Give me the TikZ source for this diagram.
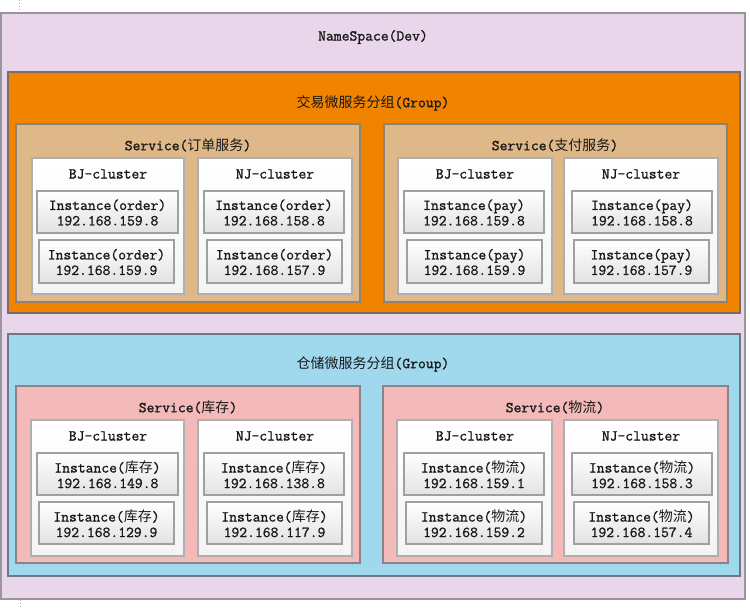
\documentclass[tikz,border=0pt]{standalone}
\usepackage{fontspec}
\newfontfamily\cjk{Noto Sans CJK SC}[Scale=0.92]
\newfontfamily\mono{Latin Modern Mono}[FakeBold=1.2]

\tikzset{every picture/.style={line width=0.75pt}}
\tikzset{
  nsbox/.style={draw={rgb, 255:red, 150; green, 150; blue, 155}, fill={rgb, 255:red, 234; green, 214; blue, 234}, line width=1.1},
  grporange/.style={draw={rgb, 255:red, 120; green, 110; blue, 100}, fill={rgb, 255:red, 240; green, 131; blue, 0}, line width=1.1},
  grpblue/.style={draw={rgb, 255:red, 110; green, 120; blue, 130}, fill={rgb, 255:red, 160; green, 216; blue, 238}, line width=1.1},
  svctan/.style={draw={rgb, 255:red, 140; green, 130; blue, 120}, fill={rgb, 255:red, 222; green, 184; blue, 136}, line width=1},
  svcpink/.style={draw={rgb, 255:red, 140; green, 130; blue, 135}, fill={rgb, 255:red, 244; green, 185; blue, 185}, line width=1},
  clusterbox/.style={draw={rgb, 255:red, 175; green, 175; blue, 175}, top color=white, bottom color={rgb, 255:red, 244; green, 244; blue, 244}, line width=1},
  instbox/.style={draw={rgb, 255:red, 160; green, 160; blue, 160}, top color=white, bottom color={rgb, 255:red, 226; green, 226; blue, 226}, line width=1},
  txt/.style={inner sep=0.75pt, font=\mono\fontsize{11.4}{11.6}\selectfont, align=center, text={rgb, 255:red, 25; green, 25; blue, 25}}
}

\begin{document}
\begin{tikzpicture}[x=0.75pt,y=0.75pt,yscale=-1,xscale=1]
\useasboundingbox (0,0) rectangle (750,609);

%Straight Lines [id:page marks]
\draw [color={rgb, 255:red, 170; green, 170; blue, 170}, dash pattern={on 0.84pt off 1.5pt}] (19,0) -- (19,12) ;
\draw [color={rgb, 255:red, 170; green, 170; blue, 170}, dash pattern={on 0.84pt off 1.5pt}] (20,600) -- (20,609) ;

%Shape: Rectangle [id:namespace]
\draw [nsbox] (1,13) -- (745,13) -- (745,599) -- (1,599) -- cycle ;
% Text Node
\draw (373,37) node [txt] (nsTitle) {NameSpace(Dev)};

%Shape: Rectangle [id:trade group]
\draw [grporange] (8,72) -- (740,72) -- (740,313) -- (8,313) -- cycle ;
% Text Node
\draw (373,103) node [txt] (tradeTitle) {{\cjk 交易微服务分组}(Group)};

%Shape: Rectangle [id:order service]
\draw [svctan] (16,124) -- (360,124) -- (360,302) -- (16,302) -- cycle ;
\draw (188,145) node [txt] (orderTitle) {Service({\cjk 订单服务})};
%Shape: Rectangle [id:order BJ]
\draw [clusterbox] (32,158) rectangle (184,294) ;
\draw (108,174) node [txt] (orderBJ) {BJ-cluster};
\draw [instbox] (37,191) rectangle (178,233) ;
\draw (107.5,212.5) node [txt] (orderBJa) {Instance(order)\\192.168.159.8};
\draw [instbox] (39,240) rectangle (174,283) ;
\draw (106.5,262) node [txt] (orderBJb) {Instance(order)\\192.168.159.9};
%Shape: Rectangle [id:order NJ]
\draw [clusterbox] (198,158) rectangle (352,294) ;
\draw (275,174) node [txt] (orderNJ) {NJ-cluster};
\draw [instbox] (204,191) rectangle (344,233) ;
\draw (274,212.5) node [txt] (orderNJa) {Instance(order)\\192.168.158.8};
\draw [instbox] (207,240) rectangle (342,283) ;
\draw (274.5,262) node [txt] (orderNJb) {Instance(order)\\192.168.157.9};

%Shape: Rectangle [id:pay service]
\draw [svctan] (384,124) -- (727,124) -- (727,302) -- (384,302) -- cycle ;
\draw (555,145) node [txt] (payTitle) {Service({\cjk 支付服务})};
%Shape: Rectangle [id:pay BJ]
\draw [clusterbox] (398,158) rectangle (552,294) ;
\draw (475,174) node [txt] (payBJ) {BJ-cluster};
\draw [instbox] (404,191) rectangle (544,233) ;
\draw (474,212.5) node [txt] (payBJa) {Instance(pay)\\192.168.159.8};
\draw [instbox] (407,240) rectangle (542,283) ;
\draw (474.5,262) node [txt] (payBJb) {Instance(pay)\\192.168.159.9};
%Shape: Rectangle [id:pay NJ]
\draw [clusterbox] (564,158) rectangle (718,294) ;
\draw (641,174) node [txt] (payNJ) {NJ-cluster};
\draw [instbox] (572,191) rectangle (712,233) ;
\draw (642,212.5) node [txt] (payNJa) {Instance(pay)\\192.168.158.8};
\draw [instbox] (574,240) rectangle (709,283) ;
\draw (641.5,262) node [txt] (payNJb) {Instance(pay)\\192.168.157.9};

%Shape: Rectangle [id:storage group]
\draw [grpblue] (8,334) -- (740,334) -- (740,576) -- (8,576) -- cycle ;
% Text Node
\draw (373,364) node [txt] (storeTitle) {{\cjk 仓储微服务分组}(Group)};

%Shape: Rectangle [id:stock service]
\draw [svcpink] (16,386) -- (360,386) -- (360,563) -- (16,563) -- cycle ;
\draw (188,407) node [txt] (stockTitle) {Service({\cjk 库存})};
%Shape: Rectangle [id:stock BJ]
\draw [clusterbox] (31,420) rectangle (184,556) ;
\draw (108,436) node [txt] (stockBJ) {BJ-cluster};
\draw [instbox] (37,453) rectangle (178,495) ;
\draw (107.5,474.5) node [txt] (stockBJa) {Instance({\cjk 库存})\\192.168.149.8};
\draw [instbox] (39,502) rectangle (174,544) ;
\draw (106.5,523.5) node [txt] (stockBJb) {Instance({\cjk 库存})\\192.168.129.9};
%Shape: Rectangle [id:stock NJ]
\draw [clusterbox] (198,420) rectangle (352,556) ;
\draw (275,436) node [txt] (stockNJ) {NJ-cluster};
\draw [instbox] (204,453) rectangle (344,495) ;
\draw (274,474.5) node [txt] (stockNJa) {Instance({\cjk 库存})\\192.168.138.8};
\draw [instbox] (207,502) rectangle (342,544) ;
\draw (274.5,523.5) node [txt] (stockNJb) {Instance({\cjk 库存})\\192.168.117.9};

%Shape: Rectangle [id:logistics service]
\draw [svcpink] (383,386) -- (728,386) -- (728,563) -- (383,563) -- cycle ;
\draw (555,407) node [txt] (logiTitle) {Service({\cjk 物流})};
%Shape: Rectangle [id:logistics BJ]
\draw [clusterbox] (397,420) rectangle (552,556) ;
\draw (475,436) node [txt] (logiBJ) {BJ-cluster};
\draw [instbox] (404,453) rectangle (544,495) ;
\draw (474,474.5) node [txt] (logiBJa) {Instance({\cjk 物流})\\192.168.159.1};
\draw [instbox] (406,502) rectangle (542,544) ;
\draw (474,523.5) node [txt] (logiBJb) {Instance({\cjk 物流})\\192.168.159.2};
%Shape: Rectangle [id:logistics NJ]
\draw [clusterbox] (564,420) rectangle (718,556) ;
\draw (641,436) node [txt] (logiNJ) {NJ-cluster};
\draw [instbox] (572,453) rectangle (712,495) ;
\draw (642,474.5) node [txt] (logiNJa) {Instance({\cjk 物流})\\192.168.158.3};
\draw [instbox] (574,502) rectangle (709,544) ;
\draw (641.5,523.5) node [txt] (logiNJb) {Instance({\cjk 物流})\\192.168.157.4};

\end{tikzpicture}
\end{document}
